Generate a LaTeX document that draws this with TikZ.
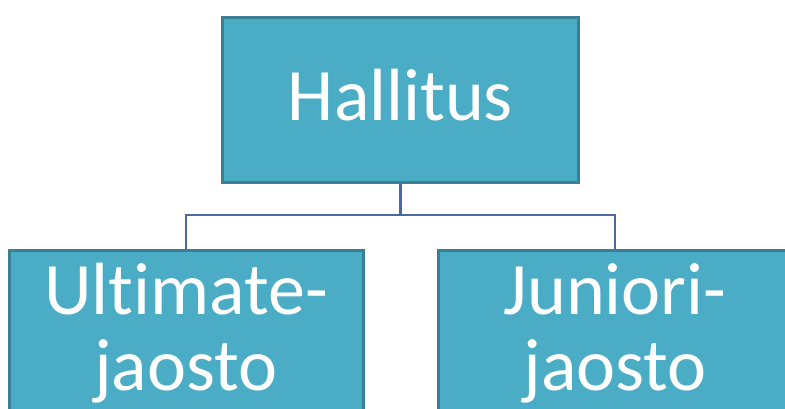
\documentclass[tikz,border=0pt]{standalone}
\usepackage{fontspec}
\setmainfont{Carlito}[Ligatures=NoCommon]
\definecolor{boxfill}{HTML}{4BACC6}
\definecolor{boxline}{HTML}{3A7F93}
\definecolor{conn}{HTML}{4A6A9E}
\begin{document}
\begin{tikzpicture}[x=1pt,y=-1pt,
  orgbox/.style={draw=boxline, fill=boxfill, line width=3pt, text=white,
    minimum width=354pt, minimum height=165pt, inner sep=0pt, align=center,
    font=\fontsize{74}{76}\selectfont},
  link/.style={draw=conn, line width=2.4pt}]
\useasboundingbox (0,0) rectangle (785,408);
\clip (0,0) rectangle (785,408);
\node[orgbox, minimum width=356pt, text depth=10pt] (top) at (400.5,99.5) {Hallitus};
\node[orgbox, anchor=north] (left) at (186,249) {Ultimate-\\jaosto};
\node[orgbox, anchor=north] (right) at (615,249) {Juniori-\\jaosto};
\coordinate (mid) at (400.5,215);
\draw[link] (top.south) -- (mid) -| (left.north);
\draw[link] (mid) -| (right.north);
\end{tikzpicture}
\end{document}
